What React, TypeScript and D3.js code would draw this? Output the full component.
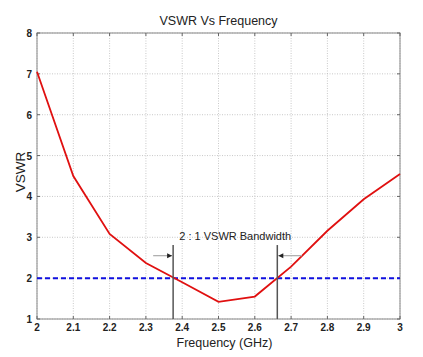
import React from "react";
import * as d3 from "d3";

const freq = [2.0, 2.1, 2.2, 2.3, 2.4, 2.5, 2.6, 2.7, 2.8, 2.9, 3.0];
const vswr = [7.05, 4.5, 3.08, 2.37, 1.9, 1.42, 1.55, 2.28, 3.16, 3.93, 4.55];
const xTicks = [2, 2.1, 2.2, 2.3, 2.4, 2.5, 2.6, 2.7, 2.8, 2.9, 3];
const yTicks = [1, 2, 3, 4, 5, 6, 7, 8];
const refLevel = 2;
const bandEdges = [2.375, 2.662];
const bandLabel = "2 : 1 VSWR Bandwidth";

export default function App() {
  const W = 423, H = 357;
  const m = { left: 37, right: 23, top: 33, bottom: 38 };
  const x = d3.scaleLinear().domain([2, 3]).range([m.left, W - m.right]);
  const y = d3.scaleLinear().domain([1, 8]).range([H - m.bottom, m.top]);
  const line = d3.line<number>().x((_, i) => x(freq[i])).y((d) => y(d));
  const font = "Arial, 'Liberation Sans', Helvetica, sans-serif";
  const grey = "#555";
  return (
    <svg width={W} height={H} style={{ position: "absolute", left: 0, top: 0, background: "#fff" }} fontFamily={font}>
      {xTicks.map((t) => (
        <line key={"gx" + t} x1={x(t)} x2={x(t)} y1={y(1)} y2={y(8)} stroke="#bbb" strokeWidth={0.8} strokeDasharray="1,1.5" />
      ))}
      {yTicks.map((t) => (
        <line key={"gy" + t} y1={y(t)} y2={y(t)} x1={x(2)} x2={x(3)} stroke="#bbb" strokeWidth={0.8} strokeDasharray="1,1.5" />
      ))}
      <rect x={x(2)} y={y(8)} width={x(3) - x(2)} height={y(1) - y(8)} fill="none" stroke="#888" strokeWidth={1} />
      {xTicks.map((t) => (
        <g key={"tx" + t}>
          <line x1={x(t)} x2={x(t)} y1={y(1)} y2={y(1) - 3} stroke="#666" />
          <line x1={x(t)} x2={x(t)} y1={y(8)} y2={y(8) + 3} stroke="#666" />
          <text x={x(t)} y={y(1) + 12} textAnchor="middle" fontSize={10} fontWeight="bold" fill="#222">{d3.format("")(t)}</text>
        </g>
      ))}
      {yTicks.map((t) => (
        <g key={"ty" + t}>
          <line y1={y(t)} y2={y(t)} x1={x(2)} x2={x(2) + 3} stroke="#666" />
          <line y1={y(t)} y2={y(t)} x1={x(3)} x2={x(3) - 3} stroke="#666" />
          <text x={x(2) - 5} y={y(t) + 4} textAnchor="end" fontSize={10} fontWeight="bold" fill="#222">{t}</text>
        </g>
      ))}
      <line x1={x(2)} x2={x(3)} y1={y(refLevel)} y2={y(refLevel)} stroke="#1010e0" strokeWidth={2} strokeDasharray="5,3" />
      <path d={line(vswr) || ""} fill="none" stroke="#e01010" strokeWidth={1.8} />
      {bandEdges.map((b) => (
        <line key={"b" + b} x1={x(b)} x2={x(b)} y1={y(1)} y2={y(2.81)} stroke={grey} strokeWidth={1.5} />
      ))}
      <line x1={x(2.32)} x2={x(bandEdges[0]) - 1} y1={y(2.55)} y2={y(2.55)} stroke="#aaa" strokeWidth={1.2} />
      <path d={`M${x(bandEdges[0]) - 1},${y(2.55)} l-5,-2.5 l0,5 z`} fill="#222" />
      <line x1={x(bandEdges[1]) + 1} x2={x(2.73)} y1={y(2.55)} y2={y(2.55)} stroke="#aaa" strokeWidth={1.2} />
      <path d={`M${x(bandEdges[1]) + 1},${y(2.55)} l5,-2.5 l0,5 z`} fill="#222" />
      <text x={(x(bandEdges[0]) + x(bandEdges[1])) / 2 + 10} y={y(2.93)} textAnchor="middle" fontSize={11} fill="#222">{bandLabel}</text>
      <text x={(x(2) + x(3)) / 2} y={25} textAnchor="middle" fontSize={12.5} fill="#222">VSWR Vs Frequency</text>
      <text x={(x(2) + x(3)) / 2 + 6} y={347} textAnchor="middle" fontSize={12.5} fill="#222">Frequency (GHz)</text>
      <text transform={`translate(25,${(y(1) + y(8)) / 2 - 4}) rotate(-90)`} textAnchor="middle" fontSize={13.5} fill="#222">VSWR</text>
    </svg>
  );
}
